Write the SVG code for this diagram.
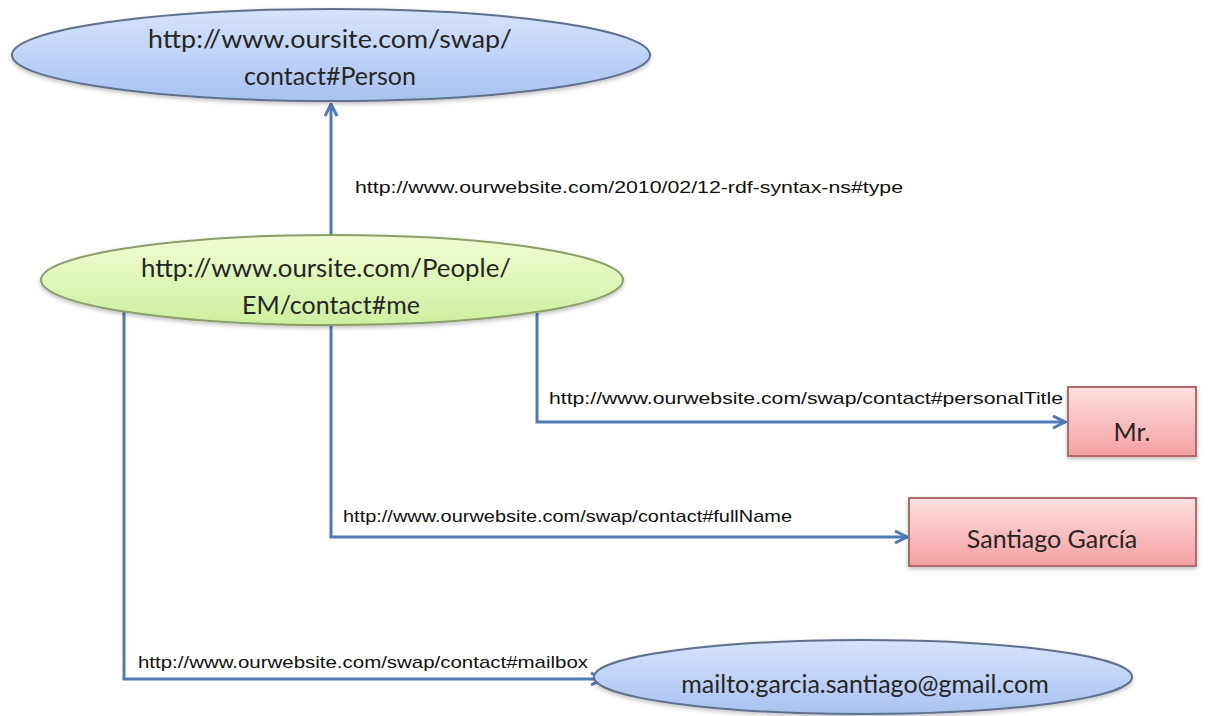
<svg xmlns="http://www.w3.org/2000/svg" width="1232" height="716" viewBox="0 0 1232 716">
<defs>
<linearGradient id="gBlue" x1="0" y1="0" x2="0" y2="1"><stop offset="0" stop-color="#d6e4fb"/><stop offset="1" stop-color="#a8c2f0"/></linearGradient>
<linearGradient id="gGreen" x1="0" y1="0" x2="0" y2="1"><stop offset="0" stop-color="#f1fcd2"/><stop offset="1" stop-color="#cdf0a0"/></linearGradient>
<linearGradient id="gRed" x1="0" y1="0" x2="0" y2="1"><stop offset="0" stop-color="#fde0e0"/><stop offset="1" stop-color="#f5a0a0"/></linearGradient>
<filter id="sh" x="-10%" y="-10%" width="120%" height="130%"><feDropShadow dx="0" dy="2" stdDeviation="2" flood-color="#000" flood-opacity="0.25"/></filter>
<marker id="arr" viewBox="0 0 10 10" refX="9" refY="5" markerWidth="5" markerHeight="5" orient="auto" markerUnits="strokeWidth">
<path d="M1 1 L9 5 L1 9" fill="none" stroke="#4f7ab5" stroke-width="2"/>
</marker>
<style>
.conn{fill:none;stroke:#4f7ab5;stroke-width:3}
.blue{fill:url(#gBlue);stroke:#60708c;stroke-width:2;filter:url(#sh)}
.green{fill:url(#gGreen);stroke:#8c9e6a;stroke-width:2;filter:url(#sh)}
.red{fill:url(#gRed);stroke:#b06a6a;stroke-width:2;filter:url(#sh)}
.nt{font-family:Lato,"Open Sans","Liberation Sans",sans-serif;font-size:25px;fill:#262626;text-anchor:middle}
.et{font-family:"Liberation Sans",Arial,sans-serif;font-size:17px;fill:#111}
</style>
</defs>
<rect width="1232" height="716" fill="#fff"/>
<g id="connectors">
<path class="conn" d="M331 238 V104" marker-end="url(#arr)"/>
<path class="conn" d="M537 313 V422 H1065" marker-end="url(#arr)"/>
<path class="conn" d="M331 326 V537 H907" marker-end="url(#arr)"/>
<path class="conn" d="M124 305 V679 H603" marker-end="url(#arr)"/>
<text class="et" x="355" y="193" textLength="548" lengthAdjust="spacingAndGlyphs">http://www.ourwebsite.com/2010/02/12-rdf-syntax-ns#type</text>
<text class="et" x="549" y="404" textLength="514" lengthAdjust="spacingAndGlyphs">http://www.ourwebsite.com/swap/contact#personalTitle</text>
<text class="et" x="343" y="522" textLength="449" lengthAdjust="spacingAndGlyphs">http://www.ourwebsite.com/swap/contact#fullName</text>
<text class="et" x="138" y="668" textLength="450" lengthAdjust="spacingAndGlyphs">http://www.ourwebsite.com/swap/contact#mailbox</text>
</g>
<g id="person">
<ellipse class="blue" cx="331" cy="55" rx="319" ry="46"/>
<text class="nt" x="330" y="48" textLength="364" lengthAdjust="spacingAndGlyphs">http://www.oursite.com/swap/</text>
<text class="nt" x="330" y="85">contact#Person</text>
</g>
<g id="me">
<ellipse class="green" cx="332" cy="280" rx="291" ry="45"/>
<text class="nt" x="326" y="277" textLength="370" lengthAdjust="spacingAndGlyphs">http://www.oursite.com/People/</text>
<text class="nt" x="331" y="314">EM/contact#me</text>
</g>
<g id="title">
<rect class="red" x="1068" y="387" width="128" height="69"/>
<text class="nt" x="1132" y="441">Mr.</text>
</g>
<g id="fullname">
<rect class="red" x="909" y="498" width="287" height="68"/>
<text class="nt" x="1052" y="548">Santiago García</text>
</g>
<g id="mailbox">
<ellipse class="blue" cx="863" cy="677" rx="269" ry="37"/>
<text class="nt" x="865" y="693">mailto:garcia.santiago@gmail.com</text>
</g>
</svg>
